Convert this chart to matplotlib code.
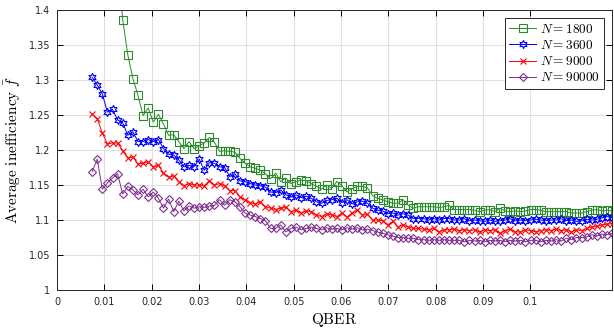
import numpy as np
import matplotlib
matplotlib.use("Agg")
import matplotlib.pyplot as plt
from matplotlib.ticker import FuncFormatter

# QBER sample points (103 points from ~0.0074 to ~0.1173)
qber = np.linspace(0.0074, 0.1173, 103)

f_1800 = [2.35, 2.10, 1.90, 1.72, 1.58, 1.47,
          1.386, 1.336, 1.302, 1.278, 1.249, 1.260, 1.240, 1.251, 1.237, 1.221, 1.222, 1.212,
          1.202, 1.212, 1.202, 1.206, 1.210, 1.218, 1.211, 1.198, 1.199, 1.198, 1.197, 1.188, 1.181, 1.176, 1.174, 1.171, 1.166, 1.159, 1.167,
          1.155, 1.160, 1.152, 1.155, 1.157, 1.156, 1.152, 1.148, 1.144, 1.150, 1.145, 1.155, 1.149, 1.140, 1.145, 1.148, 1.148,
          1.146, 1.135, 1.131, 1.129, 1.126, 1.124, 1.124, 1.129, 1.121, 1.117, 1.119, 1.119, 1.119, 1.119, 1.118, 1.119, 1.121, 1.115,
          1.115, 1.115, 1.115, 1.114, 1.112, 1.114, 1.115, 1.112, 1.117, 1.113, 1.112, 1.113, 1.112, 1.113, 1.115, 1.115,
          1.114, 1.112, 1.112, 1.112, 1.112, 1.112, 1.110, 1.110, 1.110, 1.112, 1.114, 1.115, 1.113, 1.114, 1.113]

f_3600 = [1.304, 1.293, 1.280, 1.254, 1.258, 1.243, 1.239, 1.221, 1.226, 1.212, 1.212, 1.215, 1.212, 1.215, 1.202, 1.194, 1.193, 1.186,
          1.176, 1.178, 1.176, 1.187, 1.171, 1.182, 1.181, 1.176, 1.175, 1.162, 1.166, 1.156, 1.155, 1.152, 1.150, 1.149, 1.147, 1.140, 1.139,
          1.143, 1.136, 1.133, 1.136, 1.132, 1.134, 1.131, 1.126, 1.124, 1.128, 1.129, 1.131, 1.125, 1.129, 1.123, 1.126, 1.127,
          1.124, 1.117, 1.114, 1.113, 1.109, 1.110, 1.107, 1.109, 1.107, 1.102, 1.102, 1.102, 1.100, 1.102, 1.100, 1.102, 1.102, 1.100,
          1.100, 1.102, 1.099, 1.100, 1.099, 1.098, 1.100, 1.098, 1.099, 1.100, 1.102, 1.099, 1.100, 1.099, 1.100, 1.101,
          1.100, 1.099, 1.100, 1.100, 1.102, 1.099, 1.100, 1.098, 1.099, 1.101, 1.100, 1.101, 1.103, 1.105, 1.103]

f_9000 = [1.251, 1.245, 1.224, 1.209, 1.210, 1.210, 1.199, 1.189, 1.190, 1.180, 1.181, 1.183, 1.176, 1.178, 1.167, 1.161, 1.163, 1.155,
          1.149, 1.152, 1.150, 1.150, 1.149, 1.156, 1.150, 1.152, 1.149, 1.142, 1.142, 1.133, 1.129, 1.125, 1.123, 1.126, 1.119, 1.117, 1.115,
          1.117, 1.118, 1.112, 1.114, 1.110, 1.113, 1.112, 1.107, 1.105, 1.109, 1.107, 1.105, 1.110, 1.104, 1.110, 1.115, 1.107,
          1.108, 1.100, 1.100, 1.099, 1.093, 1.098, 1.090, 1.093, 1.090, 1.088, 1.088, 1.087, 1.086, 1.088, 1.083, 1.086, 1.086, 1.087,
          1.085, 1.086, 1.085, 1.086, 1.083, 1.086, 1.085, 1.086, 1.081, 1.085, 1.087, 1.083, 1.083, 1.086, 1.085, 1.083,
          1.085, 1.086, 1.085, 1.087, 1.085, 1.086, 1.083, 1.086, 1.085, 1.088, 1.090, 1.091, 1.093, 1.094, 1.095]

f_90000 = [1.169, 1.187, 1.144, 1.153, 1.160, 1.166, 1.137, 1.148, 1.143, 1.136, 1.144, 1.133, 1.140, 1.131, 1.117, 1.130, 1.112, 1.127,
           1.113, 1.120, 1.117, 1.119, 1.118, 1.120, 1.121, 1.129, 1.121, 1.129, 1.126, 1.119, 1.110, 1.107, 1.105, 1.102, 1.099, 1.088, 1.088,
           1.093, 1.083, 1.088, 1.090, 1.086, 1.088, 1.090, 1.088, 1.086, 1.089, 1.087, 1.088, 1.086, 1.089, 1.087, 1.089, 1.086,
           1.087, 1.085, 1.083, 1.081, 1.079, 1.077, 1.075, 1.075, 1.074, 1.074, 1.072, 1.072, 1.071, 1.072, 1.071, 1.072, 1.071, 1.071,
           1.071, 1.069, 1.071, 1.070, 1.071, 1.069, 1.071, 1.070, 1.071, 1.069, 1.071, 1.070, 1.071, 1.069, 1.071, 1.071,
           1.069, 1.071, 1.070, 1.072, 1.070, 1.074, 1.072, 1.075, 1.075, 1.076, 1.079, 1.077, 1.080, 1.079, 1.081]

labels = [r"$N = 1800$", r"$N = 3600$", r"$N = 9000$", r"$N = 90000$"]

plt.rcParams["mathtext.fontset"] = "cm"

fig = plt.figure(figsize=(6.14, 3.33), dpi=100)
ax = fig.add_axes([0.093, 0.129, 0.904, 0.841])

styles = [
    dict(color="#2a8a2a", marker="s", ms=5.3),
    dict(color="#0000ff", marker=(6, 1, 0), ms=6),
    dict(color="#ff0000", marker="x", ms=4),
    dict(color="#7e2f8e", marker="D", ms=4.5),
]
for ys, lab, st in zip([f_1800, f_3600, f_9000, f_90000], labels, styles):
    ax.plot(qber, ys, color=st["color"], marker=st["marker"], markersize=st["ms"],
            markerfacecolor="none", markeredgewidth=0.8, linewidth=0.7, label=lab)

ax.set_xlim(0, 0.1173)
ax.set_ylim(1, 1.4)
ax.set_xticks(np.arange(0, 11) / 100)
ax.set_yticks(np.arange(20, 29) / 20)
ax.xaxis.set_major_formatter(FuncFormatter(lambda v, p: f"{v:g}"))
ax.yaxis.set_major_formatter(FuncFormatter(lambda v, p: f"{v:g}"))

ax.grid(True, color="#e0e0e0", linewidth=0.8)
ax.set_axisbelow(True)
ax.tick_params(direction="in", top=True, right=True, length=4, width=0.7,
               labelsize=7, labelcolor="#262626", pad=5)
for s in ax.spines.values():
    s.set_linewidth(0.7)
    s.set_color("#262626")

ax.set_xlabel(r"$\mathrm{QBER}$", fontsize=11, labelpad=3)
ax.set_ylabel(r"$\mathrm{Average\ inefficiency}\ \bar{f}$", fontsize=11, labelpad=4)

leg = ax.legend(loc="upper right", fontsize=9.5, fancybox=False, edgecolor="#262626",
                framealpha=1, handlelength=2.0, borderpad=0.35, labelspacing=0.25,
                handletextpad=0.3, borderaxespad=0.6)
leg.get_frame().set_linewidth(0.7)

fig.savefig("out.png", dpi=100)
